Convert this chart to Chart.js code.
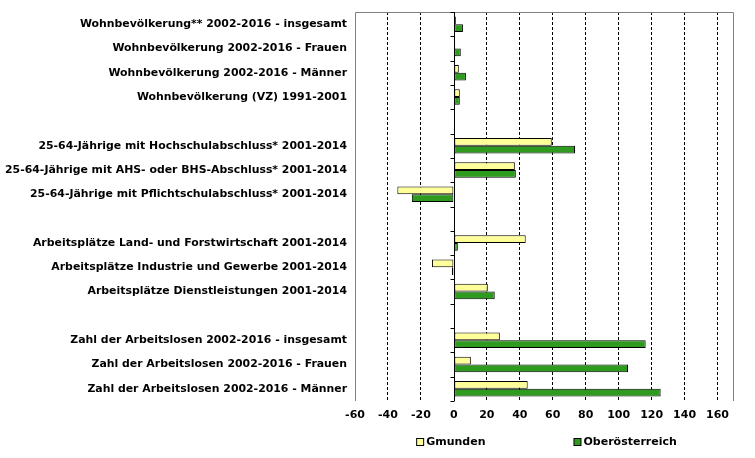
<!DOCTYPE html>
<html>
<head>
<meta charset="utf-8">
<script src="https://cdn.jsdelivr.net/npm/chart.js@4"></script>
<style>
  html, body { margin: 0; padding: 0; background: #fff; }
  #wrap { width: 755px; height: 458px; }
</style>
</head>
<body>
<div id="wrap"><canvas id="myChart" width="755" height="458"></canvas></div>
<script>
// Daten (Veränderung in %)
const kategorien = [
  "Wohnbevölkerung** 2002-2016 - insgesamt",
  "Wohnbevölkerung 2002-2016 - Frauen",
  "Wohnbevölkerung 2002-2016 - Männer",
  "Wohnbevölkerung (VZ) 1991-2001",
  "",
  "25-64-Jährige mit Hochschulabschluss* 2001-2014",
  "25-64-Jährige mit AHS- oder BHS-Abschluss* 2001-2014",
  "25-64-Jährige mit Pflichtschulabschluss* 2001-2014",
  "",
  "Arbeitsplätze Land- und Forstwirtschaft 2001-2014",
  "Arbeitsplätze Industrie und Gewerbe 2001-2014",
  "Arbeitsplätze Dienstleistungen 2001-2014",
  "",
  "Zahl der Arbeitslosen 2002-2016 - insgesamt",
  "Zahl der Arbeitslosen 2002-2016 - Frauen",
  "Zahl der Arbeitslosen 2002-2016 - Männer"
];

const gmunden = [1.2, 0.8, 3, 3.6, null, 59.4, 37, -34.3, null, 43.6, -13.3, 20.6, null, 27.9, 10.3, 44.8];
const oberoesterreich = [5.5, 4.2, 7.3, 3.6, null, 73.5, 37.6, -25.5, null, 2.4, -1.2, 24.8, null, 116.4, 105.7, 125.5];

const xMin = -60;
const xMax = 170;
const xTicks = [-60, -40, -20, 0, 20, 40, 60, 80, 100, 120, 140, 160];

const chartDom = document.getElementById("myChart");
const schrift = "'DejaVu Sans', Verdana, sans-serif";

// Rahmen, Achsenstriche und Legende
const extras = {
  id: "extras",
  beforeDatasetsDraw(chart) {
    const { ctx, chartArea: a } = chart;
    ctx.save();
    ctx.strokeStyle = "#808080";
    ctx.lineWidth = 1;
    ctx.beginPath();
    ctx.moveTo(a.left + 0.5, a.bottom);
    ctx.lineTo(a.left + 0.5, a.top + 0.5);
    ctx.lineTo(a.right - 0.5, a.top + 0.5);
    ctx.lineTo(a.right - 0.5, a.bottom);
    ctx.stroke();
    ctx.restore();
  },
  afterDatasetsDraw(chart) {
    const { ctx, chartArea: a, scales } = chart;
    const x0 = Math.round(scales.x.getPixelForValue(0)) + 0.5;
    const n = kategorien.length;
    ctx.save();
    ctx.strokeStyle = "#000";
    ctx.lineWidth = 1;
    ctx.beginPath();
    ctx.moveTo(x0, a.top);
    ctx.lineTo(x0, a.bottom);
    for (let i = 0; i <= n; i++) {
      const y = Math.round(a.top + (i * (a.bottom - a.top)) / n) + 0.5;
      ctx.moveTo(x0 - 4, y);
      ctx.lineTo(x0, y);
    }
    ctx.stroke();

    // Legende
    const mitte = (a.left + a.right) / 2;
    const yL = 442;
    const eintraege = chart.data.datasets.map((d) => ({ text: d.label, farbe: d.backgroundColor }));
    ctx.font = "bold 11px " + schrift;
    ctx.textBaseline = "middle";
    const abstand = 88;
    const breiten = eintraege.map((e) => 10 + ctx.measureText(e.text).width);
    const gesamt = breiten.reduce((s, b) => s + b, 0) + abstand * (eintraege.length - 1);
    let x = mitte - gesamt / 2 + 2;
    eintraege.forEach((e, i) => {
      ctx.fillStyle = e.farbe;
      ctx.fillRect(x + 0.5, yL - 3.5, 7, 7);
      ctx.strokeStyle = "#000";
      ctx.strokeRect(x + 0.5, yL - 3.5, 7, 7);
      ctx.fillStyle = "#000";
      ctx.fillText(e.text, x + 10, yL);
      x += breiten[i] + abstand;
    });
    ctx.restore();
  }
};

const config = {
  type: "bar",
  data: {
    labels: kategorien,
    datasets: [
      {
        label: "Gmunden",
        data: gmunden,
        backgroundColor: "#ffff99",
        borderColor: "#000",
        borderWidth: 1,
        borderSkipped: false,
        inflateAmount: 0
      },
      {
        label: "Oberösterreich",
        data: oberoesterreich,
        backgroundColor: "#2e9a1e",
        borderColor: "#000",
        borderWidth: 1,
        borderSkipped: false,
        inflateAmount: 0
      }
    ]
  },
  options: {
    indexAxis: "y",
    responsive: false,
    animation: false,
    layout: { padding: { top: 12, right: 21, bottom: 0, left: 0 } },
    datasets: { bar: { categoryPercentage: 0.64, barPercentage: 1 } },
    plugins: {
      legend: { display: false },
      tooltip: { enabled: false }
    },
    scales: {
      x: {
        min: xMin,
        max: xMax,
        afterFit(scale) { scale.height = 57; },
        afterBuildTicks(scale) { scale.ticks = xTicks.map((v) => ({ value: v })); },
        ticks: {
          autoSkip: false,
          maxRotation: 0,
          color: "#000",
          padding: 8,
          font: { family: schrift, size: 11, weight: "bold" }
        },
        grid: {
          drawTicks: false,
          color: (c) => {
            if (!c.tick) return "#000";
            const v = c.tick.value;
            return v === xMin || v === 0 ? "rgba(0,0,0,0)" : "#000";
          },
          lineWidth: 1
        },
        border: {
          display: false,
          dash: (c) => (c.tick ? [3, 2] : [])
        }
      },
      y: {
        afterFit(scale) {
          scale.width = 355;
          scale.paddingTop = 0;
          scale.paddingBottom = 0;
        },
        ticks: {
          color: "#000",
          padding: 8,
          autoSkip: false,
          font: { family: schrift, size: 10.9, weight: "bold" }
        },
        grid: { display: false, drawTicks: false },
        border: { display: false }
      }
    }
  },
  plugins: [extras]
};

const myChart = new Chart(chartDom, config);
</script>
</body>
</html>
